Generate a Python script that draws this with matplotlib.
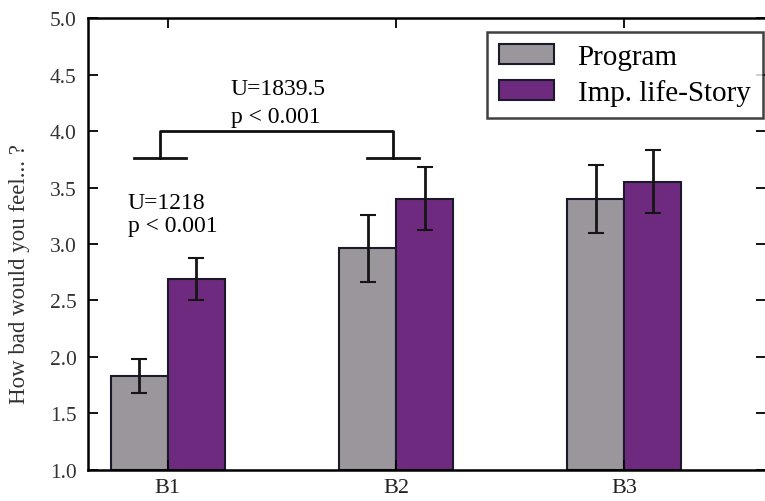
import matplotlib
matplotlib.use("Agg")
import matplotlib.pyplot as plt
import numpy as np

categories = ["B1", "B2", "B3"]
program = [1.83, 2.96, 3.40]
program_err = [0.15, 0.30, 0.30]
story = [2.69, 3.40, 3.55]
story_err = [0.19, 0.28, 0.28]
series_labels = ["Program", "Imp. life-Story"]
yticks = [1.0, 1.5, 2.0, 2.5, 3.0, 3.5, 4.0, 4.5, 5.0]

plt.rcParams['font.family'] = ['Liberation Serif', 'DejaVu Serif']

fig = plt.figure(figsize=(7.65, 5.02), dpi=100)
ax = fig.add_axes([0.115, 0.062, 0.886, 0.900])

x = np.arange(len(categories))
w = 0.25
edge = "#1c1a2a"
gray = "#9a969c"
purple = "#6e2a7e"

ax.bar(x - w / 2, [v - 1.0 for v in program], w, bottom=1.0, color=gray,
       edgecolor=edge, linewidth=1.5, label=series_labels[0])
ax.bar(x + w / 2, [v - 1.0 for v in story], w, bottom=1.0, color=purple,
       edgecolor=edge, linewidth=1.5, label=series_labels[1])
ax.errorbar(x - w / 2, program, yerr=program_err, fmt="none", ecolor="#151515",
            elinewidth=2, capsize=5.5, capthick=1.5)
ax.errorbar(x + w / 2, story, yerr=story_err, fmt="none", ecolor="#151515",
            elinewidth=2, capsize=5.5, capthick=1.5)

ax.set_xlim(-0.35, 2.62)
ax.set_ylim(1.0, 5.0)
ax.set_yticks(yticks)
ax.set_yticklabels([f"{t:.1f}" for t in yticks], fontsize=15.5, color="#333333")
ax.set_xticks(x)
ax.set_xticklabels(categories, fontsize=16, color="#222222")
ax.tick_params(direction="in", length=7, width=1.3, top=True, right=True, pad=6)
ax.tick_params(axis="y", pad=8)
for s in ax.spines.values():
    s.set_linewidth(1.8)
ax.set_ylabel("How bad would you feel... ?", fontsize=16.5, color="#333333")
ax.yaxis.set_label_coords(-0.085, 0.435)

# significance bracket
b1, b2 = -0.035, 1.0 - 0.013
ytop, yfoot, hw = 4.0, 3.76, 0.115
ax.plot([b1, b1, b2, b2], [yfoot, ytop, ytop, yfoot], color="#111111", lw=2)
ax.plot([b1 - hw, b1 + hw], [yfoot, yfoot], color="#111111", lw=2)
ax.plot([b2 - hw, b2 + hw], [yfoot, yfoot], color="#111111", lw=2)
ax.text(0.275, 4.38, "U=1839.5", fontsize=17, ha="left", va="center")
ax.text(0.275, 4.13, "p < 0.001", fontsize=17, ha="left", va="center")
ax.text(-0.175, 3.37, "U=1218", fontsize=17, ha="left", va="center")
ax.text(-0.175, 3.16, "p < 0.001", fontsize=17, ha="left", va="center")

leg = ax.legend(loc="upper right", bbox_to_anchor=(1.004, 0.983), fontsize=21,
                frameon=True, fancybox=False, edgecolor="#111111",
                handlelength=1.9, handleheight=0.7, borderpad=0.42,
                labelspacing=0.3, handletextpad=0.8, borderaxespad=0.2)
leg.get_frame().set_linewidth(1.8)

fig.savefig("out.png", dpi=100)
